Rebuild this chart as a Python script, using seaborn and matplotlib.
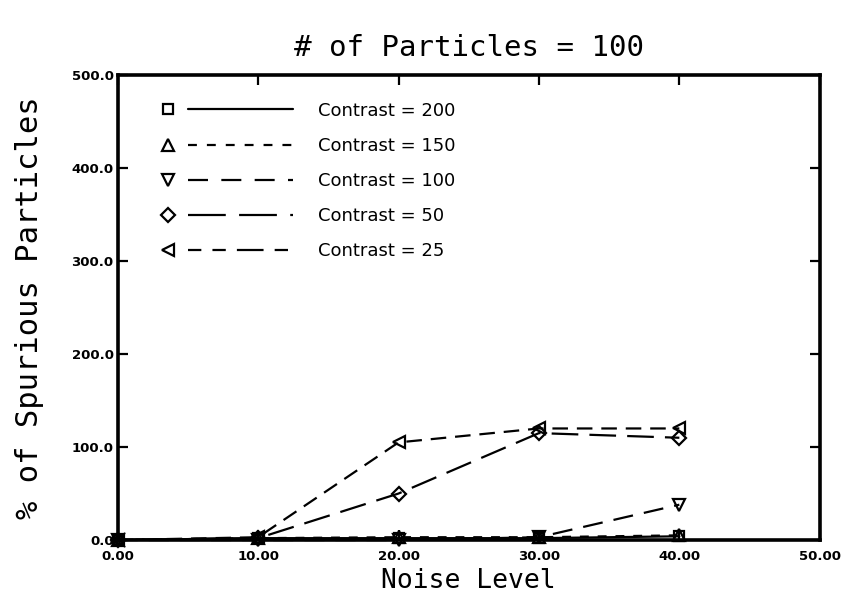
import matplotlib
matplotlib.use("Agg")
import matplotlib.pyplot as plt
import seaborn as sns
import pandas as pd
from matplotlib.lines import Line2D
from matplotlib.legend_handler import HandlerBase

noise = [0, 10, 20, 30, 40]
c200 = [0, 2, 2, 2, 4]
c150 = [0, 2, 3, 3, 5]
c100 = [0, 0, 0, 3, 38]
c50 = [0, 2, 50, 115, 110]
c25 = [0, 3, 105, 120, 120]
labels = ["Contrast = 200", "Contrast = 150", "Contrast = 100", "Contrast = 50", "Contrast = 25"]
xticks = [0, 10, 20, 30, 40, 50]
yticks = [0, 100, 200, 300, 400, 500]

series = [c200, c150, c100, c50, c25]
markers = ["s", "^", "v", "D", "<"]
msizes = [7, 8, 8, 7, 8]
styles = ["-", (0, (4, 4)), (0, (9, 5)), (0, (12, 5)), (0, (7, 4))]
leg_styles = ["-", (0, (4, 4.5)), (0, (9, 6)), (0, (17, 6)), (0, (6, 5, 6, 5, 12, 5))]

sns.set_style("ticks")
plt.rcParams["font.family"] = ["DejaVu Sans"]
plt.rcParams["text.color"] = "black"
plt.rcParams["axes.labelcolor"] = "black"
plt.rcParams["xtick.color"] = "black"
plt.rcParams["ytick.color"] = "black"
plt.rcParams["axes.edgecolor"] = "black"

fig = plt.figure(figsize=(8.53, 6.14), dpi=100)
ax = fig.add_axes([0.138, 0.1205, 0.823, 0.757])

handles = []
for vals, lab, mk, ms, ls, lls in zip(series, labels, markers, msizes, styles, leg_styles):
    df = pd.DataFrame({"Noise Level": noise, "pct": vals})
    sns.lineplot(data=df, x="Noise Level", y="pct", ax=ax, color="black",
                 linestyle=ls, linewidth=1.6, marker=mk, markersize=ms,
                 markerfacecolor="none", markeredgecolor="black",
                 markeredgewidth=1.6, clip_on=False, zorder=3)
    h = Line2D([], [], color="black", linestyle=lls, linewidth=1.6,
               marker=mk, markersize=ms)
    h._legend_ls = lls
    handles.append(h)


class SplitHandler(HandlerBase):
    def create_artists(self, legend, orig_handle, xdescent, ydescent,
                       width, height, fontsize, trans):
        y = height / 2 - ydescent
        x0 = -xdescent
        m = Line2D([x0 + 0.06 * width], [y], marker=orig_handle.get_marker(),
                   linestyle="none", markerfacecolor="none", markeredgecolor="black",
                   markeredgewidth=1.6, markersize=orig_handle.get_markersize())
        ln = Line2D([x0 + 0.21 * width, x0 + width], [y, y], color="black",
                    linestyle=orig_handle._legend_ls, linewidth=1.6)
        m.set_transform(trans)
        ln.set_transform(trans)
        return [m, ln]


leg = ax.legend(handles, labels, loc="upper left", frameon=False,
                handler_map={Line2D: SplitHandler()}, handlelength=7.4,
                handletextpad=1.35, labelspacing=0.95, fontsize=13,
                bbox_to_anchor=(0.042, 0.97), borderaxespad=0.3)

ax.set_xlim(0, 50)
ax.set_ylim(0, 500)
ax.set_xticks(xticks)
ax.set_yticks(yticks)
ax.set_xticklabels([f"{v:.2f}" for v in xticks], fontsize=9.5, fontweight="bold")
ax.set_yticklabels([f"{v:.1f}" for v in yticks], fontsize=9.5, fontweight="bold")
ax.tick_params(direction="in", length=7, width=1.6, top=True, right=True)
ax.tick_params(axis="x", pad=7)
ax.tick_params(axis="y", pad=3)
for sp in ax.spines.values():
    sp.set_linewidth(2.6)
    sp.set_visible(True)

ax.set_xlabel("Noise Level", fontsize=19, family="DejaVu Sans Mono", labelpad=4)
ax.set_ylabel("% of Spurious Particles", fontsize=22, family="DejaVu Sans Mono", labelpad=20)
ax.set_title("# of Particles = 100", fontsize=21, family="DejaVu Sans Mono", pad=14)

fig.savefig("out.png", dpi=100)
